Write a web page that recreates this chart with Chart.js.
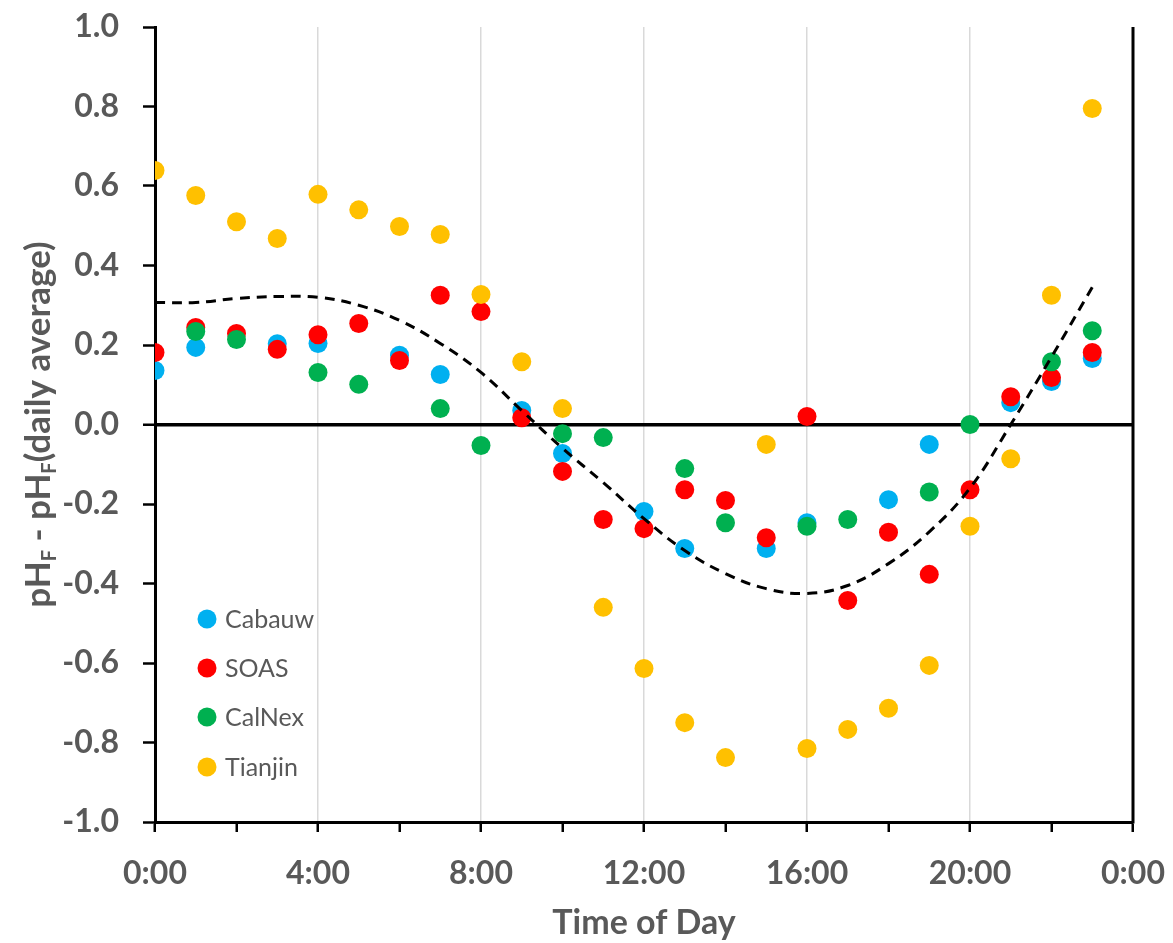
<!DOCTYPE html>
<html>
<head>
<meta charset="utf-8">
<script src="https://cdn.jsdelivr.net/npm/chart.js@4"></script>
<style>
  html, body { margin: 0; padding: 0; background: #ffffff; }
  #wrap { width: 1173px; height: 943px; position: relative; }
</style>
</head>
<body>
<div id="wrap"><canvas id="c" width="1173" height="943"></canvas></div>
<script>
// ---- data (hour of day, pH_F minus daily average) ----
const hours = [0,1,2,3,4,5,6,7,8,9,10,11,12,13,14,15,16,17,18,19,20,21,22,23];
const cabauw  = [0.136,0.194,null,0.203,0.204,null,0.174,0.126,null,0.035,-0.073,null,-0.219,-0.312,null,-0.312,-0.247,null,-0.189,-0.050,null,0.055,0.108,0.166];
const soas    = [0.181,0.244,0.229,0.189,0.226,0.254,0.161,0.325,0.284,0.017,-0.118,-0.239,-0.262,-0.164,-0.191,-0.285,0.020,-0.443,-0.271,-0.377,-0.164,0.070,0.118,0.181];
const calnex  = [null,0.234,0.214,null,0.131,0.101,null,0.040,-0.053,null,-0.023,-0.033,null,-0.111,-0.247,null,-0.256,-0.239,null,-0.170,0.000,null,0.158,0.236];
const tianjin = [0.639,0.576,0.510,0.468,0.579,0.540,0.498,0.478,0.327,0.158,0.040,-0.460,-0.614,-0.750,-0.838,-0.050,-0.815,-0.767,-0.714,-0.606,-0.256,-0.086,0.325,0.795];
const trend   = [0.307,0.307,0.317,0.322,0.320,0.300,0.262,0.204,0.131,0.035,-0.060,-0.146,-0.237,-0.317,-0.375,-0.413,-0.425,-0.405,-0.350,-0.270,-0.160,0.000,0.170,0.345];
const seriesNames = ['Cabauw','SOAS','CalNex','Tianjin'];
const seriesColors = ['#00B0F0','#FF0000','#00B050','#FFC000'];
const xTickLabels = {0:'0:00',4:'4:00',8:'8:00',12:'12:00',16:'16:00',20:'20:00',24:'0:00'};
const xTitle = 'Time of Day';

const toXY = arr => hours.map((h,i) => ({x:h, y:arr[i]})).filter(p => p.y !== null);
const seriesData = [cabauw, soas, calnex, tianjin];

const gray = '#595959';

const datasets = seriesData.map((arr, i) => ({
  label: seriesNames[i],
  data: toXY(arr),
  backgroundColor: seriesColors[i],
  borderColor: seriesColors[i],
  pointRadius: 9.5,
  pointBorderWidth: 0,
  showLine: false,
  order: 5 - i
}));
datasets.push({
  label: 'trend',
  data: toXY(trend),
  type: 'line',
  borderColor: '#000000',
  borderWidth: 3,
  borderDash: [10, 7],
  pointRadius: 0,
  tension: 0.4,
  fill: false,
  order: 0
});

const extras = {
  id: 'extras',
  afterDraw(chart) {
    const {ctx, chartArea: a} = chart;
    ctx.save();
    // right border
    ctx.strokeStyle = '#000';
    ctx.lineWidth = 3;
    ctx.beginPath();
    ctx.moveTo(a.right, a.top);
    ctx.lineTo(a.right, a.bottom + 1.5);
    ctx.stroke();

    // legend
    const ly = [619, 668, 717, 767];
    ctx.font = '25px Lato';
    ctx.textBaseline = 'middle';
    ctx.textAlign = 'left';
    seriesNames.forEach((n, i) => {
      ctx.fillStyle = seriesColors[i];
      ctx.beginPath();
      ctx.arc(207, ly[i], 9.5, 0, Math.PI * 2);
      ctx.fill();
      ctx.fillStyle = gray;
      ctx.fillText(n, 225, ly[i] + 1);
    });

    // x title
    ctx.font = 'bold 34px Lato';
    ctx.fillStyle = gray;
    ctx.textAlign = 'center';
    ctx.textBaseline = 'alphabetic';
    ctx.fillText(xTitle, (a.left + a.right) / 2, 934);

    // y title with subscripts
    const parts = [
      {t:'pH', sub:false}, {t:'F', sub:true}, {t:' - pH', sub:false}, {t:'F', sub:true}, {t:'(daily average)', sub:false}
    ];
    const big = 'bold 35px Lato', small = 'bold 20px Lato';
    let total = 0;
    parts.forEach(p => { ctx.font = p.sub ? small : big; p.w = ctx.measureText(p.t).width; total += p.w; });
    ctx.translate(50, (a.top + a.bottom) / 2);
    ctx.rotate(-Math.PI / 2);
    ctx.textAlign = 'left';
    ctx.textBaseline = 'alphabetic';
    let x = -total / 2;
    parts.forEach(p => {
      ctx.font = p.sub ? small : big;
      ctx.fillText(p.t, x, p.sub ? 6 : 0);
      x += p.w;
    });
    ctx.restore();
  }
};

new Chart(document.getElementById('c'), {
  type: 'scatter',
  data: { datasets },
  options: {
    responsive: false,
    devicePixelRatio: 1,
    animation: false,
    events: [],
    layout: { padding: { top: 27, right: 40, left: 0, bottom: 0 } },
    plugins: { legend: { display: false }, tooltip: { enabled: false } },
    scales: {
      x: {
        type: 'linear',
        min: 0, max: 24,
        afterFit: s => { s.height = 121; s.paddingLeft = 0; s.paddingRight = 0; },
        ticks: {
          stepSize: 2,
          autoSkip: false,
          maxRotation: 0,
          padding: 22,
          color: gray,
          font: { family: 'Lato', weight: 'bold', size: 32 },
          callback: v => (xTickLabels[v] !== undefined ? xTickLabels[v] : '')
        },
        grid: {
          color: c => (c.tick && c.tick.value % 4 === 0 && c.tick.value > 0 && c.tick.value < 24) ? '#d9d9d9' : 'rgba(0,0,0,0)',
          lineWidth: 1.5,
          tickColor: '#000',
          tickWidth: 2.5,
          tickLength: 10,
          drawTicks: true
        },
        border: { color: '#000', width: 3 }
      },
      y: {
        min: -1, max: 1,
        afterFit: s => { s.width = 155; s.paddingTop = 0; s.paddingBottom = 0; },
        ticks: {
          stepSize: 0.2,
          padding: 24,
          color: gray,
          font: { family: 'Lato', weight: 'bold', size: 32 },
          callback: v => { const r = Math.round(v * 10) / 10; return (r === 0 ? 0 : r).toFixed(1); }
        },
        grid: {
          color: c => (c.tick && Math.abs(c.tick.value) < 1e-9) ? '#000' : 'rgba(0,0,0,0)',
          lineWidth: c => (c.tick && Math.abs(c.tick.value) < 1e-9) ? 3.5 : 1,
          tickColor: '#000',
          tickWidth: 2.5,
          tickLength: 12,
          drawTicks: true
        },
        border: { color: '#000', width: 3 }
      }
    }
  },
  plugins: [extras]
});
</script>
</body>
</html>
